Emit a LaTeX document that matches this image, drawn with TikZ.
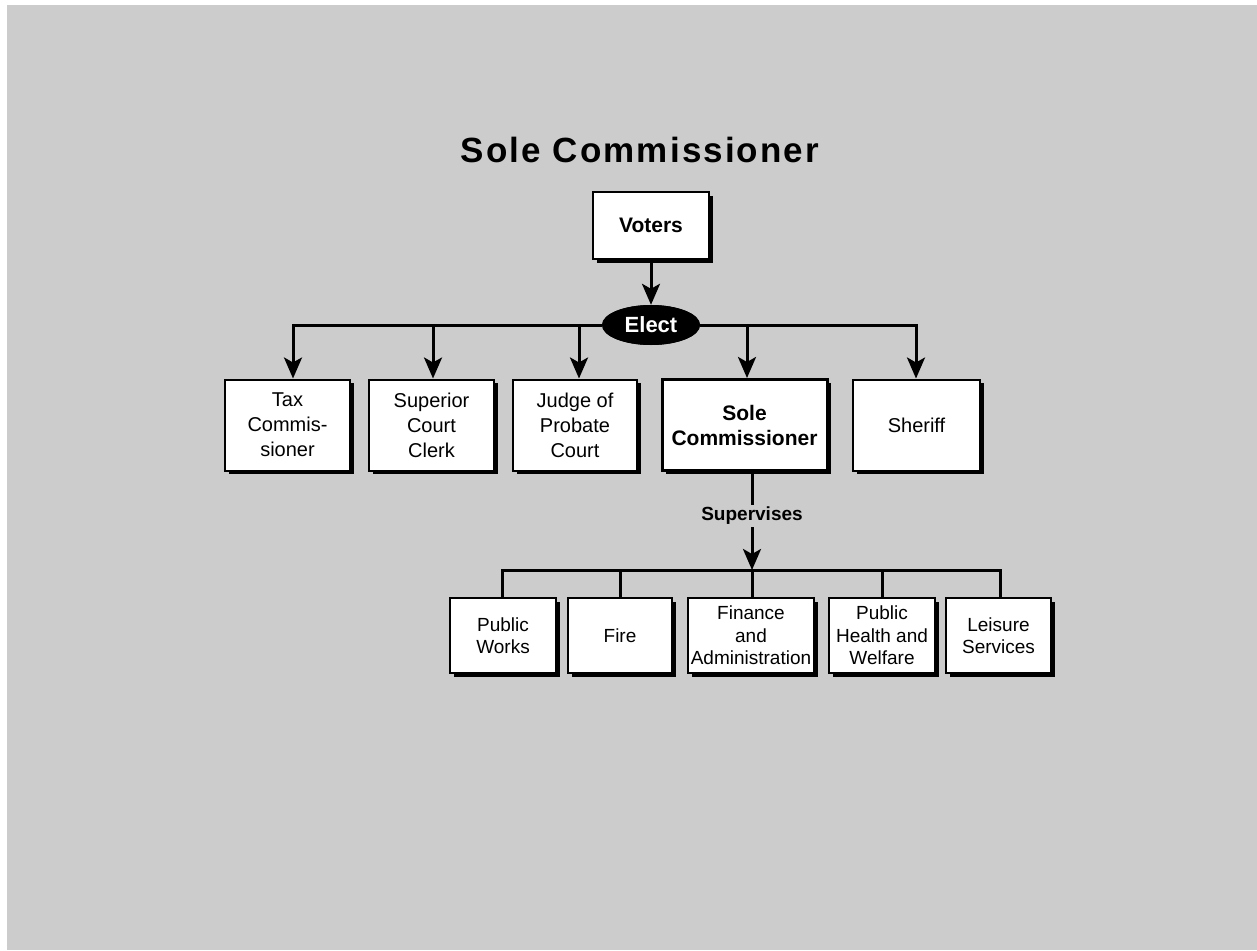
\documentclass[tikz,border=0pt]{standalone}
\usepackage{fontspec}
\setmainfont{Liberation Sans}
\newfontfamily\titlefont[LetterSpace=6]{Liberation Sans}
\usetikzlibrary{shadows,arrows.meta,shapes.geometric}
\definecolor{bg}{RGB}{204,204,204}
\begin{document}
\begin{tikzpicture}[x=1pt,y=-1pt,
  shadowed/.style={drop shadow={shadow xshift=3.5pt, shadow yshift=-3.5pt, fill=black, opacity=1}},
  box/.style={draw, line width=2pt, fill=white, align=center, inner sep=0pt, shadowed,
    minimum height=91pt, font=\fontsize{20}{25}\selectfont},
  subbox/.style={draw, line width=2pt, fill=white, align=center, inner sep=0pt, shadowed,
    minimum height=75pt, font=\fontsize{19}{22.5}\selectfont},
  elector/.style={ellipse, fill=black, inner sep=0pt, minimum width=98pt, minimum height=40pt,
    text=white, font=\bfseries\fontsize{22}{26}\selectfont},
  wire/.style={line width=3pt},
  arr/.style={line width=3pt, -{Stealth[length=21pt,width=18pt,inset=5pt]}},
]
\useasboundingbox (0,0) rectangle (1257,950);
\fill[white] (0,0) rectangle (1257,950);
\fill[bg] (7,5) rectangle (1257,950);

\node[font=\titlefont\bfseries\fontsize{35}{42}\selectfont] (title) at (640,150) {Sole Commissioner};

\node[draw, line width=2.5pt, fill=white, shadowed, minimum width=116pt, minimum height=67pt,
  font=\bfseries\fontsize{21}{25}\selectfont] (voters) at (651,225.5) {Voters};

\node[box, minimum width=125pt] (tax) at (287.5,425) {Tax\\Commis-\\sioner};
\node[box, minimum width=125pt] (sup) at (431.5,425) {Superior\\Court\\Clerk};
\node[box, minimum width=124pt] (judge) at (575,425) {Judge of\\Probate\\Court};
\node[box, minimum width=165pt, line width=3pt, font=\bfseries\fontsize{21}{25}\selectfont] (sole) at (744.5,425) {Sole\\Commissioner};
\node[box, minimum width=127pt] (sheriff) at (916.5,425) {Sheriff};

\node[elector] (elect) at (651,325) {};

\coordinate (c1) at (293,325);
\coordinate (c2) at (433,325);
\coordinate (c3) at (579,325);
\coordinate (c4) at (747,325);
\coordinate (c5) at (916,325);

\draw[arr] (voters) -- (elect);
\draw[arr] (elect.west) -| (c1 |- tax.north);
\draw[arr] (c2) -- (c2 |- sup.north);
\draw[arr] (c3) -- (c3 |- judge.north);
\draw[arr] (elect.east) -| (c5 |- sheriff.north);
\draw[arr] (c4) -- (c4 |- sole.north);
\node[elector] (electtop) at (elect) {Elect};

\node[subbox, minimum width=106pt] (pw) at (503,635.5) {Public\\Works};
\node[subbox, minimum width=104pt] (fire) at (620,635.5) {Fire};
\node[subbox, minimum width=126pt] (fin) at (751,635.5) {Finance\\and\\Administration};
\node[subbox, minimum width=106pt] (ph) at (882,635.5) {Public\\Health and\\Welfare};
\node[subbox, minimum width=105pt] (leis) at (998.5,635.5) {Leisure\\Services};

\coordinate (bus) at (752,570);
\coordinate (sfoot) at (752,470);

\draw[wire] ([xshift=-1pt]pw.north) |- (bus) -| ([xshift=1.5pt]leis.north);
\draw[wire] (fire.north) -- (fire.north |- bus);
\draw[wire] (bus) -- (bus |- fin.north);
\draw[wire] (ph.north) -- (ph.north |- bus);
\draw[arr] (sfoot) -- (bus) node[pos=0.46, fill=bg, inner xsep=1pt, inner ysep=2pt,
  font=\bfseries\fontsize{19}{22}\selectfont] (suplabel) {Supervises};
\end{tikzpicture}
\end{document}
